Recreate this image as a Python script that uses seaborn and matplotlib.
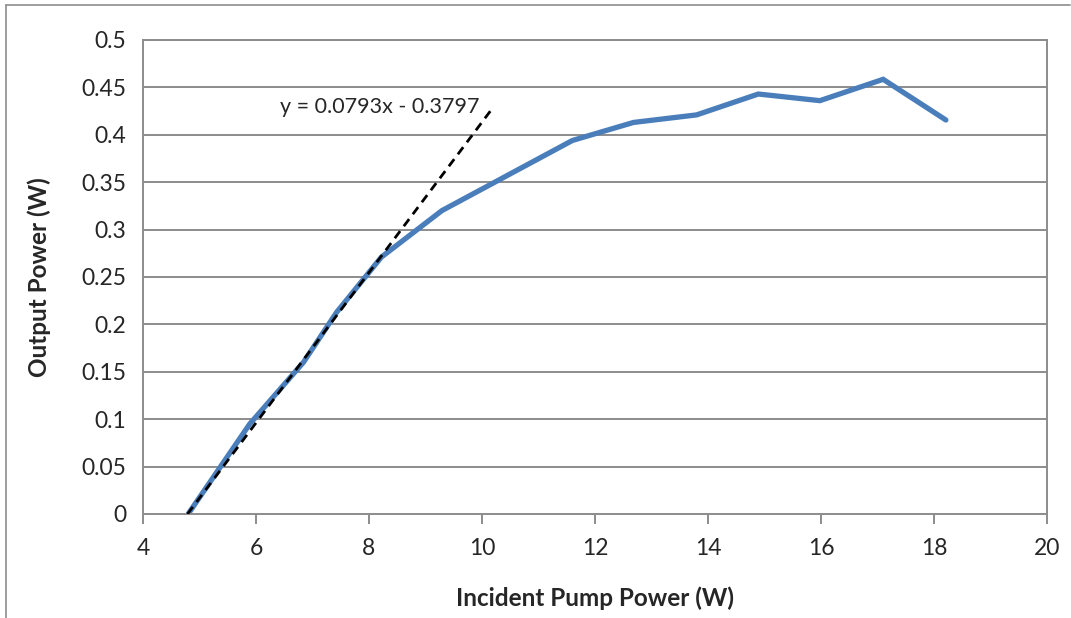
import numpy as np
import pandas as pd
import matplotlib.pyplot as plt
import seaborn as sns
from matplotlib.lines import Line2D

pump_power = [4.80, 5.89, 6.84, 7.43, 8.22, 9.29, 11.60, 12.68, 13.80, 14.89, 15.98, 17.10, 18.21]
output_power = [0.0, 0.095, 0.160, 0.213, 0.271, 0.320, 0.394, 0.413, 0.421, 0.443, 0.436, 0.4585, 0.4156]

# Trendlinie
slope = 0.0793
intercept = -0.3797
trend_x = [-intercept / slope, 10.15]

x_ticks = [4, 6, 8, 10, 12, 14, 16, 18, 20]
y_ticks = [0, 0.05, 0.1, 0.15, 0.2, 0.25, 0.3, 0.35, 0.4, 0.45, 0.5]
y_labels = ['0', '0.05', '0.1', '0.15', '0.2', '0.25', '0.3', '0.35', '0.4', '0.45', '0.5']

df = pd.DataFrame({'Pump': pump_power, 'Output': output_power})
df_trend = pd.DataFrame({'x': trend_x})
df_trend['y'] = slope * df_trend['x'] + intercept

sns.set_style('white')
plt.rcParams['font.family'] = ['Lato', 'DejaVu Sans']

grau = '#8c8c8c'

fig = plt.figure(figsize=(10.71, 6.18), dpi=100)
ax = fig.add_axes([0.1335, 0.1683, 0.9776 - 0.1335, 0.9353 - 0.1683])

for y in y_ticks[1:]:
    ax.axhline(y, color=grau, lw=1.4, zorder=0)

sns.lineplot(data=df, x='Pump', y='Output', ax=ax, color='#4a7ebb', lw=3.8,
             solid_capstyle='round', solid_joinstyle='miter', zorder=2)
sns.lineplot(data=df_trend, x='x', y='y', ax=ax, color='black', lw=2.0,
             linestyle=(0, (3.2, 2.2)), zorder=3)

ax.text(6.42, 0.429, 'y = 0.0793x - 0.3797', fontsize=15.5, va='center', ha='left')

ax.set_xlim(4, 20)
ax.set_ylim(0, 0.5)
ax.set_xticks(x_ticks)
ax.set_yticks(y_ticks)
ax.set_yticklabels(y_labels)
ax.tick_params(axis='x', direction='out', length=7, width=1.4, color=grau, labelsize=16.5, pad=10)
ax.tick_params(axis='y', length=0, labelsize=16.5, pad=12)
ax.tick_params(bottom=True, left=False)

for s in ax.spines.values():
    s.set_color(grau)
    s.set_linewidth(1.4)

ax.set_xlabel('Incident Pump Power (W)', fontsize=17.5, fontweight='bold', labelpad=20)
ax.set_ylabel('Output Power (W)', fontsize=17.5, fontweight='bold', labelpad=22)

# Rahmen oben und links
fig.add_artist(Line2D([6 / 1071, 6 / 1071], [0, 1 - 5 / 618], transform=fig.transFigure, color=grau, lw=1.2))
fig.add_artist(Line2D([6 / 1071, 1070 / 1071], [1 - 5 / 618, 1 - 5 / 618], transform=fig.transFigure, color=grau, lw=1.2))

fig.savefig('out.png', dpi=100)
